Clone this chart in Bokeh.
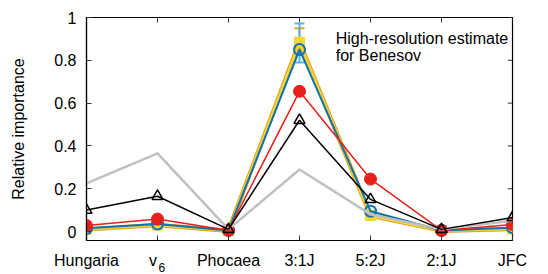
from bokeh.plotting import figure
from bokeh.models import (ColumnDataSource, Whisker, FixedTicker, LinearAxis,
                          Range1d, CustomJSTickFormatter, Label, TeeHead)
from bokeh.embed import file_html
from bokeh.resources import INLINE

categories = ["Hungaria", "v\u00a0\u00a0", "Phocaea", "3:1J", "5:2J", "2:1J", "JFC"]
subscripts = {1: "6"}
gray_vals = [0.225, 0.365, 0.01, 0.29, 0.08, 0.01, 0.05]
black_vals = [0.10, 0.165, 0.01, 0.52, 0.15, 0.01, 0.065]
red_vals = [0.028, 0.058, 0.005, 0.655, 0.245, 0.005, 0.033]
blue_vals = [0.015, 0.035, 0.005, 0.85, 0.095, 0.005, 0.018]
yellow_vals = [0.01, 0.03, 0.004, 0.885, 0.075, 0.004, 0.012]
blue_err_lo = [0.79]
blue_err_hi = [0.972]
yellow_err_lo = [0.83]
yellow_err_hi = [0.95]
err_idx = [3]
y_ticks = [0, 0.2, 0.4, 0.6, 0.8, 1.0]

xs = list(range(len(categories)))
FONT = "Liberation Sans"
Y0, Y1 = -0.042, 1.0
X0, X1 = 0, 6
SUB_SHIFT = 0.061

p = figure(width=548, height=274, output_backend="svg", toolbar_location=None,
           x_range=Range1d(X0, X1), y_range=Range1d(Y0, Y1),
           min_border_left=86, min_border_right=36, min_border_top=17,
           min_border_bottom=33)
p.grid.visible = False
p.outline_line_color = "black"
p.outline_line_width = 1.2
p.background_fill_color = "white"
p.border_fill_color = "white"

def style_axis(ax):
    ax.axis_line_color = "black"
    ax.axis_line_width = 1.2
    ax.major_tick_in = 5
    ax.major_tick_out = 0
    ax.minor_tick_line_color = None
    ax.major_tick_line_color = "#333333"
    ax.major_label_text_font = FONT
    ax.major_label_text_font_size = "16px"
    ax.major_label_text_color = "black"

xa = p.xaxis[0]
xa.ticker = FixedTicker(ticks=xs)
xa.major_label_overrides = {i: c for i, c in enumerate(categories)}
xa.major_label_standoff = 11
style_axis(xa)

# second row for the subscript of v6
p.extra_x_ranges = {"sub": Range1d(X0 - SUB_SHIFT, X1 - SUB_SHIFT)}
sub = LinearAxis(x_range_name="sub", ticker=FixedTicker(ticks=list(subscripts)))
sub.major_label_overrides = subscripts
sub.axis_line_color = None
sub.major_tick_line_color = None
sub.minor_tick_line_color = None
sub.major_tick_in = 0
sub.major_tick_out = 0
sub.major_label_standoff = -9
sub.major_label_text_font = FONT
sub.major_label_text_font_size = "12px"
sub.major_label_text_color = "black"
p.add_layout(sub, "below")

ya = p.yaxis[0]
ya.ticker = FixedTicker(ticks=y_ticks)
ya.formatter = CustomJSTickFormatter(code="return String(Math.round(tick*10)/10);")
ya.major_label_standoff = 10
ya.axis_label = "Relative importance"
ya.axis_label_text_font = FONT
ya.axis_label_text_font_size = "16px"
ya.axis_label_text_font_style = "normal"
ya.axis_label_text_color = "black"
ya.axis_label_standoff = 24
style_axis(ya)

# mirrored inward ticks on top and right edges
p.segment(x0=xs, y0=[Y1] * len(xs), x1=xs, y1=[Y1 - 0.023] * len(xs),
          line_color="#333333", line_width=1)
p.segment(x0=[X1] * len(y_ticks), y0=y_ticks, x1=[X1 - 0.068] * len(y_ticks),
          y1=y_ticks, line_color="#333333", line_width=1)

# yellow series
p.line(xs, yellow_vals, line_color="#e3a21a", line_width=4.5)
p.line(xs, yellow_vals, line_color="#f3d63a", line_width=2.5)
p.scatter(xs, yellow_vals, marker="square", size=10, fill_color="#f3d63a",
          line_color="#f3d63a")
ysrc = ColumnDataSource(dict(x=err_idx, lo=yellow_err_lo, hi=yellow_err_hi))
p.add_layout(Whisker(source=ysrc, base="x", lower="lo", upper="hi",
                     line_color="#e3a21a", line_width=2,
                     upper_head=TeeHead(size=10, line_color="#e3a21a", line_width=2),
                     lower_head=TeeHead(size=10, line_color="#e3a21a", line_width=2)))

# blue series
p.line(xs, blue_vals, line_color="#0e72b5", line_width=2)
bsrc = ColumnDataSource(dict(x=err_idx, lo=blue_err_lo, hi=blue_err_hi))
p.add_layout(Whisker(source=bsrc, base="x", lower="lo", upper="hi",
                     line_color="#56b4e9", line_width=2,
                     upper_head=TeeHead(size=10, line_color="#56b4e9", line_width=2),
                     lower_head=TeeHead(size=10, line_color="#56b4e9", line_width=2)))
p.scatter(xs, blue_vals, marker="circle", size=11, fill_color=None,
          line_color="#0e72b5", line_width=2)

# red series
p.line(xs, red_vals, line_color="#e8201c", line_width=1.5)
p.scatter(xs, red_vals, marker="circle", size=12, fill_color="#e8201c",
          line_color="#e8201c")

# gray series
p.line(xs, gray_vals, line_color="#c0c0c0", line_width=2.5)

# black series
p.line(xs, black_vals, line_color="black", line_width=1.5)
p.scatter(xs, black_vals, marker="triangle", size=11, fill_color=None,
          line_color="black", line_width=1.5)

for i, t in enumerate(["High-resolution estimate", "for Benesov"]):
    p.add_layout(Label(x=3.51, y=0.86 - i * 0.075, text=t, text_font=FONT,
                       text_font_size="16px", text_color="black"))

open("out.html", "w").write(file_html(p, INLINE))
